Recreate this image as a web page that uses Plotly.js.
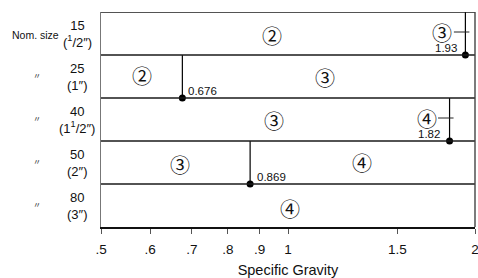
<!DOCTYPE html>
<html><head><meta charset="utf-8">
<script src="https://cdn.plot.ly/plotly-3.0.1.min.js"></script>
<style>html,body{margin:0;padding:0;background:#fff}</style>
</head><body><div id="chart" style="width:478px;height:278px"></div>
<script>
// ---- data ----
const nomSizes = ['15', '25', '40', '50', '80'];
const inchSizes = ['(<sup>1</sup>/2″)', '(1″)', '(1<sup>1</sup>/2″)', '(2″)', '(3″)'];
const thresholds = [1.93, 0.676, 1.82, 0.869, null];
const thresholdLabels = ['1.93', '0.676', '1.82', '0.869', null];
const zoneLow = ['②', '②', '③', '③', '④'];
const zoneHigh = ['③', '③', '④', '④', null];
const tickVals = [0.5, 0.6, 0.7, 0.8, 0.9, 1, 1.5, 2];
const tickText = ['.5', '.6', '.7', '.8', '.9', '1', '1.5', '2'];

// ---- layout config (positions / styles) ----
const L = 101, R = 475, T = 12, B = 227, ROWH = 43;
const px2paper = p => (p - L) / (R - L);
const py2data = p => (B - p) / ROWH;
const lowPos = [[272, 35], [142, 75], [274, 120], [180, 164], [290, 208]];
const highPos = [null, [325, 77], null, [362, 162], null];
// for zone labels tied to the threshold line by a pointer: [ax offset px, y px]
const pointerLabel = [[-27, 32], null, [-27, 118], null];
// threshold label placement: [xanchor, xshift]
const thrLabelPlace = [['right', -6], ['left', 4], ['right', -8], ['left', 5]];

const nRows = nomSizes.length;
const rowTop = r => nRows - r;
const rowBot = r => nRows - 1 - r;

const lineX = [], lineY = [], dotX = [], dotY = [];
thresholds.forEach((t, r) => {
  if (t === null) return;
  lineX.push(t, t, null);
  lineY.push(rowBot(r), rowTop(r), null);
  dotX.push(t); dotY.push(rowBot(r));
});

const traces = [
  {x: lineX, y: lineY, mode: 'lines', line: {color: '#000', width: 1.2}, hoverinfo: 'skip', showlegend: false},
  {x: dotX, y: dotY, mode: 'markers', marker: {color: '#000', size: 7}, hoverinfo: 'skip', showlegend: false}
];

const lineColor = '#1a1a1a';
const shapes = [];
for (let k = 1; k <= nRows; k++) {
  shapes.push({type: 'line', xref: 'paper', yref: 'y', x0: 0, x1: 1, y0: k, y1: k,
    line: {color: lineColor, width: 1.4}});
}
shapes.push({type: 'line', xref: 'paper', yref: 'y', x0: 1, x1: 1, y0: 0, y1: nRows,
  line: {color: '#444', width: 1.4}});

const circFont = {family: 'Noto Sans CJK JP', size: 20, color: '#111'};
const annotations = [];
nomSizes.forEach((s, r) => {
  annotations.push({xref: 'paper', yref: 'y', x: px2paper(77), y: rowBot(r) + 0.5,
    text: s + '<br>' + inchSizes[r], showarrow: false, align: 'center',
    xanchor: 'center', yanchor: 'middle',
    font: {family: 'Liberation Sans, Arial, sans-serif', size: 13, color: '#111'}});
  if (r === 0) {
    annotations.push({xref: 'paper', yref: 'y', x: px2paper(35.5), y: py2data(35),
      text: 'Nom. size', showarrow: false, xanchor: 'center', yanchor: 'middle',
      font: {family: 'Liberation Sans Narrow, Arial Narrow, sans-serif', size: 10.5, color: '#111'}});
  } else {
    annotations.push({xref: 'paper', yref: 'y', x: px2paper(37), y: rowBot(r) + 0.52,
      text: '〃', showarrow: false, xanchor: 'center', yanchor: 'middle',
      font: {family: 'Noto Sans CJK JP', size: 8, color: '#333'}});
  }
  annotations.push({xref: 'paper', yref: 'y', x: px2paper(lowPos[r][0]), y: py2data(lowPos[r][1]),
    text: zoneLow[r], showarrow: false, xanchor: 'center', yanchor: 'middle', font: circFont});
  if (zoneHigh[r] && highPos[r]) {
    annotations.push({xref: 'paper', yref: 'y', x: px2paper(highPos[r][0]), y: py2data(highPos[r][1]),
      text: zoneHigh[r], showarrow: false, xanchor: 'center', yanchor: 'middle', font: circFont});
  }
  if (zoneHigh[r] && pointerLabel[r]) {
    annotations.push({xref: 'x', yref: 'y', x: Math.log10(thresholds[r]), y: py2data(pointerLabel[r][1]),
      xshift: 4, text: zoneHigh[r], showarrow: true, arrowhead: 0, arrowwidth: 1, arrowcolor: '#222',
      ax: pointerLabel[r][0], ay: 0, standoff: 0, startstandoff: 0, font: circFont});
  }
  if (thresholds[r] !== null) {
    annotations.push({xref: 'x', yref: 'y', x: Math.log10(thresholds[r]), y: rowBot(r),
      text: thresholdLabels[r], showarrow: false, xanchor: thrLabelPlace[r][0],
      xshift: thrLabelPlace[r][1], yanchor: 'middle', yshift: 7,
      font: {family: 'Liberation Sans, Arial, sans-serif', size: 11.5, color: '#111'}});
  }
});

const layout = {
  width: 478, height: 278,
  margin: {l: L, r: 478 - R, t: T, b: 278 - B},
  paper_bgcolor: '#fff', plot_bgcolor: '#fff',
  showlegend: false,
  xaxis: {type: 'log', range: [Math.log10(0.5), Math.log10(2)],
    tickvals: tickVals, ticktext: tickText, ticks: 'outside', ticklen: 5, tickwidth: 1,
    tickcolor: '#555', showline: true, linecolor: '#111', linewidth: 1.6,
    showgrid: false, zeroline: false, ticklabeloverflow: 'allow', ticklabelstandoff: 4,
    tickfont: {family: 'Liberation Sans, Arial, sans-serif', size: 13.5, color: '#111'},
    title: {text: 'Specific Gravity', standoff: 11,
      font: {family: 'Liberation Sans, Arial, sans-serif', size: 14.5, color: '#111'}}},
  yaxis: {range: [0, nRows], showticklabels: false, ticks: '', showgrid: false, zeroline: false,
    showline: true, linecolor: '#777', linewidth: 1.4, fixedrange: true},
  shapes: shapes,
  annotations: annotations
};

Plotly.newPlot('chart', traces, layout, {displayModeBar: false, staticPlot: true});
</script></body></html>
